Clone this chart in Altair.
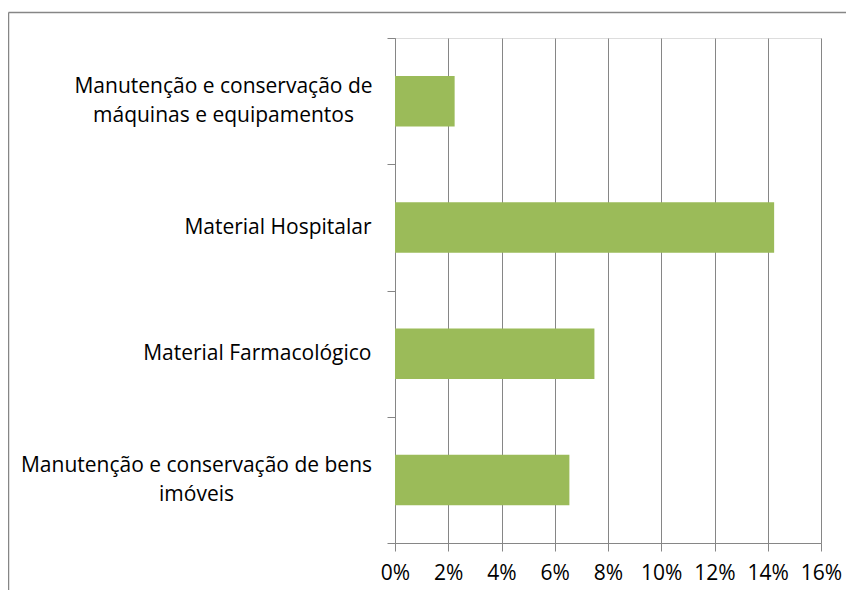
import json
import altair as alt
import pandas as pd

categories = [
    "Manutenção e conservação de máquinas e equipamentos",
    "Material Hospitalar",
    "Material Farmacológico",
    "Manutenção e conservação de bens imóveis",
]
label_lines = [
    ["Manutenção e conservação de", "máquinas e equipamentos"],
    ["Material Hospitalar"],
    ["Material Farmacológico"],
    ["Manutenção e conservação de bens", "imóveis"],
]
values = [0.0224, 0.1424, 0.0749, 0.0655]
x_ticks = [0, 0.02, 0.04, 0.06, 0.08, 0.10, 0.12, 0.14, 0.16]

# label layout: single lines right-aligned, two-line blocks centred
label_pad = [164, 16, 16, 191]
label_align = ["center", "right", "right", "center"]
label_shift = [-14.5, 0, 0, -14.5]

df = pd.DataFrame({"category": categories, "value": values})

expr = "datum.label"
for cat, lines in reversed(list(zip(categories, label_lines))):
    expr = f"datum.value == {json.dumps(cat)} ? {json.dumps(lines, ensure_ascii=False)} : ({expr})"


def cond(vals, default):
    return {
        "condition": [
            {"test": f"datum.value == {json.dumps(c)}", "value": v}
            for c, v in zip(categories, vals)
        ],
        "value": default,
    }


AX = "#868686"
FONT = "Open Sans"
FS = 21

bars = alt.Chart(df).mark_bar(color="#9BBB59", height={"band": 0.4}).encode(
    y=alt.Y(
        "category:N",
        sort=categories,
        scale=alt.Scale(paddingInner=0, paddingOuter=0),
        axis=alt.Axis(
            title=None,
            tickBand="extent",
            domainColor=AX,
            tickColor=AX,
            tickSize=8,
            labelFont=FONT,
            labelFontSize=FS,
            labelColor="#000000",
            labelLineHeight=29,
            labelLimit=500,
            labelExpr=expr,
            labelPadding=cond(label_pad, 16),
            labelAlign=cond(label_align, "right"),
            labelOffset=cond(label_shift, 0),
            labelBaseline="middle",
            grid=False,
        ),
    ),
    x=alt.X(
        "value:Q",
        scale=alt.Scale(domain=[0, 0.16], nice=False),
        axis=alt.Axis(
            title=None,
            values=x_ticks,
            format=".0%",
            grid=True,
            gridColor=AX,
            domainColor=AX,
            tickColor=AX,
            tickSize=8,
            labelPadding=11,
            labelFont=FONT,
            labelFontSize=FS,
            labelColor="#000000",
            labelFlush=False,
            labelOverlap=False,
        ),
    ),
)

frame_top = alt.Chart(alt.Data(values=[{}])).mark_rule(color=AX, strokeWidth=1.5).encode(
    x=alt.value(-386.5), x2=alt.value(470), y=alt.value(-25.5)
)
frame_left = alt.Chart(alt.Data(values=[{}])).mark_rule(color=AX, strokeWidth=1.5).encode(
    x=alt.value(-386.5), y=alt.value(-25.5), y2=alt.value(600)
)

chart = alt.layer(frame_top, frame_left, bars).properties(
    width=426,
    height=505,
    autosize=alt.AutoSizeParams(type="none"),
    padding={"left": 387, "top": 30, "right": 25, "bottom": 47},
).configure_view(stroke=None).configure(background="white")

chart.save("out.html", embed_options={"renderer": "svg", "actions": False})
